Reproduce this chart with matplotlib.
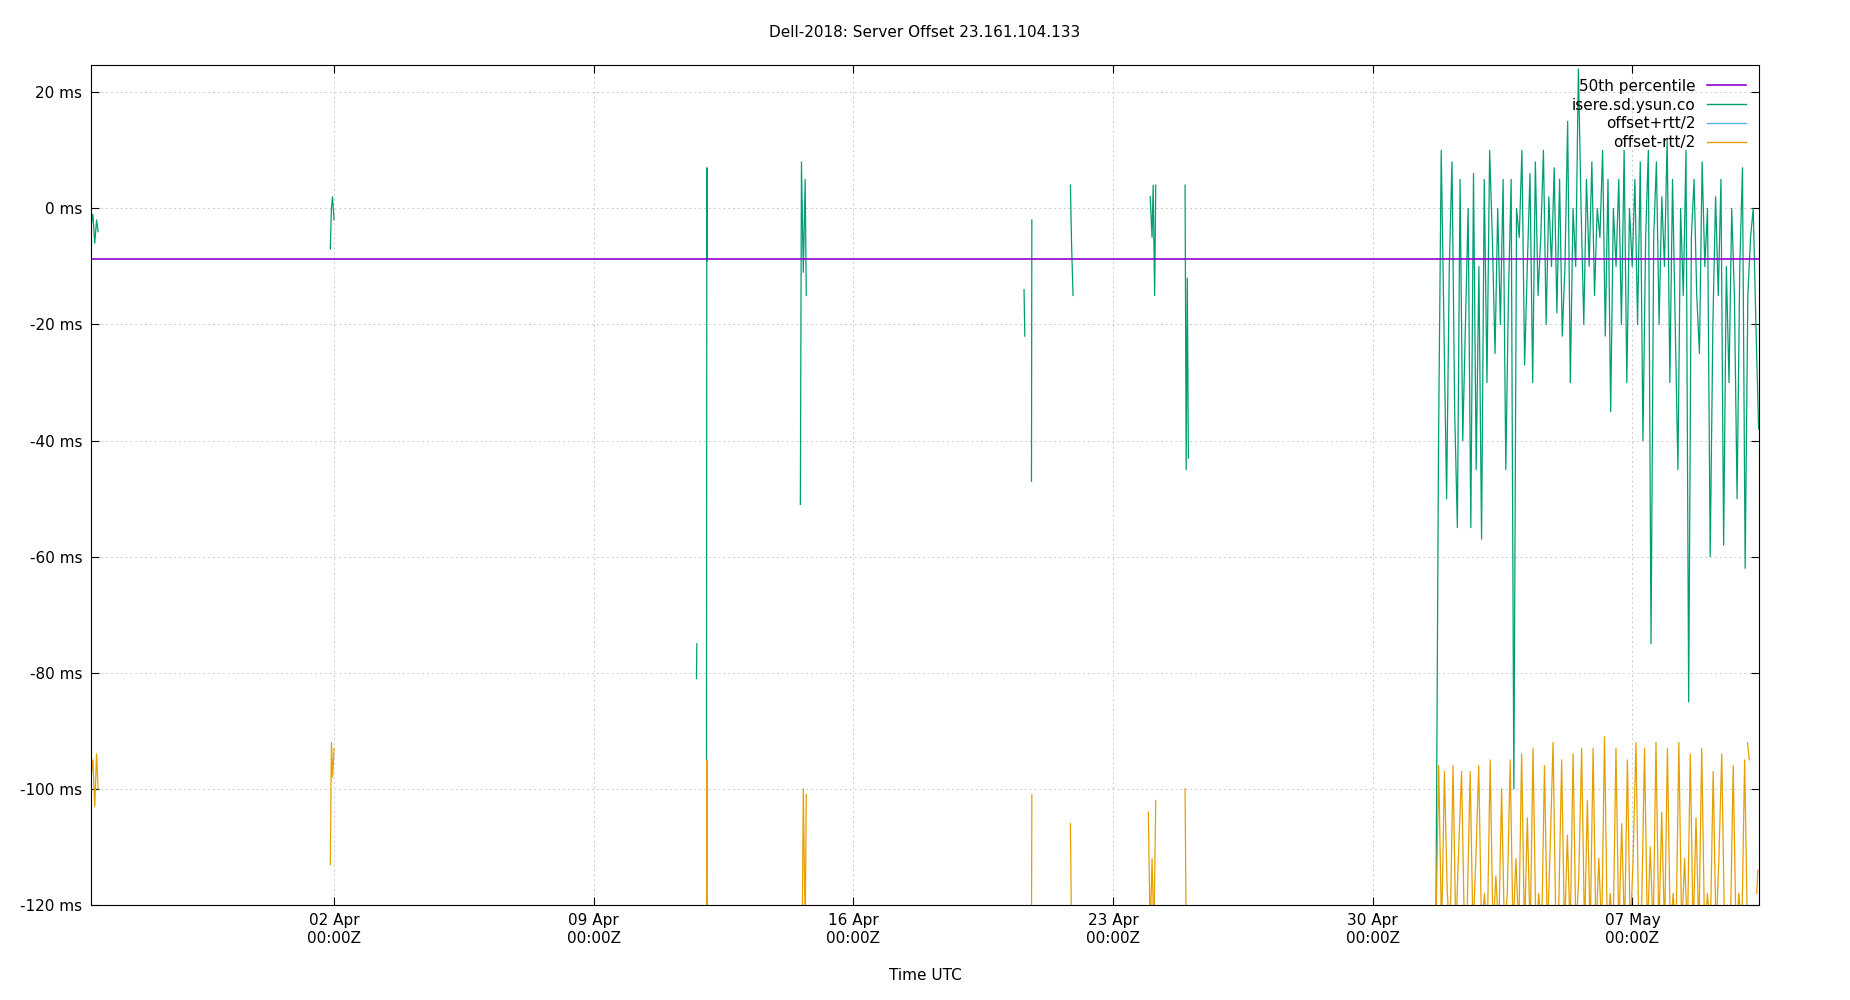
import numpy as np
import matplotlib.pyplot as plt
import matplotlib.dates as mdates
from datetime import datetime, timedelta

# time in days relative to 02 Apr 2018 00:00Z
T0 = datetime(2018, 4, 2)

median_ms = -8.8

# sparse offset segments: (times in days, offset ms)
offset_segs = [
    ([-6.55, -6.50, -6.45, -6.40, -6.36], [-3, -1, -6, -2, -4]),
    ([-0.10, -0.07, -0.04, 0.00], [-7, 0, 2, -2]),
    ([9.77, 9.78], [-81, -75]),
    ([10.04, 10.05, 10.06], [-95, 7, -9]),
    ([12.57, 12.60, 12.65, 12.70, 12.73], [-51, 8, -11, 5, -15]),
    ([18.60, 18.62], [-14, -22]),
    ([18.80, 18.81], [-47, -2]),
    ([19.85, 19.88, 19.92], [4, -6, -15]),
    ([22.00, 22.05, 22.08, 22.12, 22.15], [2, -5, 4, -15, 4]),
    ([22.94, 22.97, 23.00, 23.03], [4, -45, -12, -43]),
]

# orange (offset - rtt/2) sparse segments
low_segs = [
    ([-6.55, -6.50, -6.45, -6.40, -6.36], [-98, -95, -103, -94, -100]),
    ([-0.10, -0.07, -0.04, 0.00], [-113, -92, -98, -93]),
    ([10.04, 10.05, 10.06], [-125, -95, -125]),
    ([12.62, 12.65, 12.70, 12.73], [-125, -100, -125, -101]),
    ([18.80, 18.81], [-125, -101]),
    ([19.85, 19.88], [-106, -125]),
    ([21.95, 22.00, 22.05, 22.10, 22.15], [-104, -125, -112, -125, -102]),
    ([22.94, 22.97], [-100, -125]),
]

# dense period from ~01 May to end
dense_start, dense_end = 29.70, 38.40
dense_offset = [-125, -40, 10, -20, -50, -10, 8, -35, -55, 5, -40, -20, 0, -55, 6, -45,
                -10, -57, 5, -30, 10, -5, -25, 0, -20, 5, -45, -15, 5, -100, 0, -5, 10,
                -27, -10, 6, -30, 8, -15, -5, 10, -20, 2, -10, 7, -18, 5, -22, -10, 15,
                -30, 0, -10, 24, 0, -20, 5, -10, 8, -15, 0, -5, 10, -22, 5, -35, 0, -10,
                5, -20, 10, -30, 0, -10, 5, -20, 8, -40, -5, 10, -75, -5, 8, -20, 2, -10,
                12, -30, 5, -20, -45, 0, -15, 10, -85, -5, 5, -15, -25, 8, -10, 0, -60,
                -20, 2, -15, 5, -58, -10, -30, 0, -15, -50, -10, 7, -62, -15, -5, 0,
                -20, -38]
dense_low = [-125, -96, -125, -97, -118, -125, -96, -125, -110, -97, -125, -120, -97,
             -125, -112, -96, -125, -118, -125, -95, -125, -115, -125, -100, -125, -118,
             -95, -125, -112, -125, -94, -125, -105, -125, -93, -125, -118, -125, -96,
             -125, -110, -92, -125, -120, -95, -125, -108, -125, -94, -125, -115, -93,
             -125, -102, -125, -93, -125, -112, -125, -91, -125, -118, -125, -93, -125,
             -106, -125, -95, -125, -112, -92, -125, -120, -93, -125, -110, -125, -92,
             -125, -104, -125, -93, -125, -118, -125, -92, -125, -112, -125, -94, -125,
             -105, -125, -93, -125, -118, -125, -97, -125, -112, -94, -125, -120, -125,
             -96, -125, -118, -125, -95, -125]
extra_low = ([38.10, 38.15], [-92, -95])
extra_low2 = ([38.35, 38.38], [-118, -114])


def to_dates(days):
    return [T0 + timedelta(days=d) for d in days]


fig = plt.figure(figsize=(18.5, 10), dpi=100)
ax = fig.add_axes([0.049, 0.095, 0.902, 0.84])

green = '#009e73'
orange = '#e69f00'
lw = 0.9

for t, v in offset_segs:
    ax.plot(to_dates(t), v, color=green, lw=lw)
for t, v in low_segs:
    ax.plot(to_dates(t), v, color=orange, lw=lw)

td = np.linspace(dense_start, dense_end, len(dense_offset))
ax.plot(to_dates(td), dense_offset, color=green, lw=lw)
tl = np.linspace(dense_start, dense_end - 0.3, len(dense_low))
ax.plot(to_dates(tl), dense_low, color=orange, lw=lw)
for t, v in (extra_low, extra_low2):
    ax.plot(to_dates(t), v, color=orange, lw=lw)

xmin = T0 + timedelta(days=-6.56)
xmax = T0 + timedelta(days=38.42)
ax.plot([xmin, xmax], [median_ms, median_ms], color='#9400d3', lw=1.2, label='50th percentile')
ax.plot([], [], color=green, lw=1, label='isere.sd.ysun.co')
ax.plot([], [], color='#56b4e9', lw=1, label='offset+rtt/2')
ax.plot([], [], color=orange, lw=1, label='offset-rtt/2')

ax.set_xlim(xmin, xmax)
ax.set_ylim(-120, 24.7)
ax.set_yticks(range(-120, 21, 20))
ax.set_yticklabels([f'{v} ms' for v in range(-120, 21, 20)])
ax.set_xticks(to_dates([0, 7, 14, 21, 28, 35]))
ax.xaxis.set_major_formatter(mdates.DateFormatter('%d %b\n%H:%MZ'))
ax.tick_params(direction='in', top=True, right=True, labelsize=11, length=6, pad=6)
ax.grid(True, color='#cccccc', linestyle=(0, (2, 3)), lw=0.7)
for s in ax.spines.values():
    s.set_linewidth(0.8)

ax.set_xlabel('Time UTC', fontsize=11, labelpad=16)
ax.set_title('Dell-2018: Server Offset 23.161.104.133', fontsize=11, pad=20)
ax.legend(loc='upper right', frameon=False, markerfirst=False, fontsize=11,
          handlelength=2.5, borderaxespad=0.5, labelspacing=0.25)

fig.savefig('out.png')
